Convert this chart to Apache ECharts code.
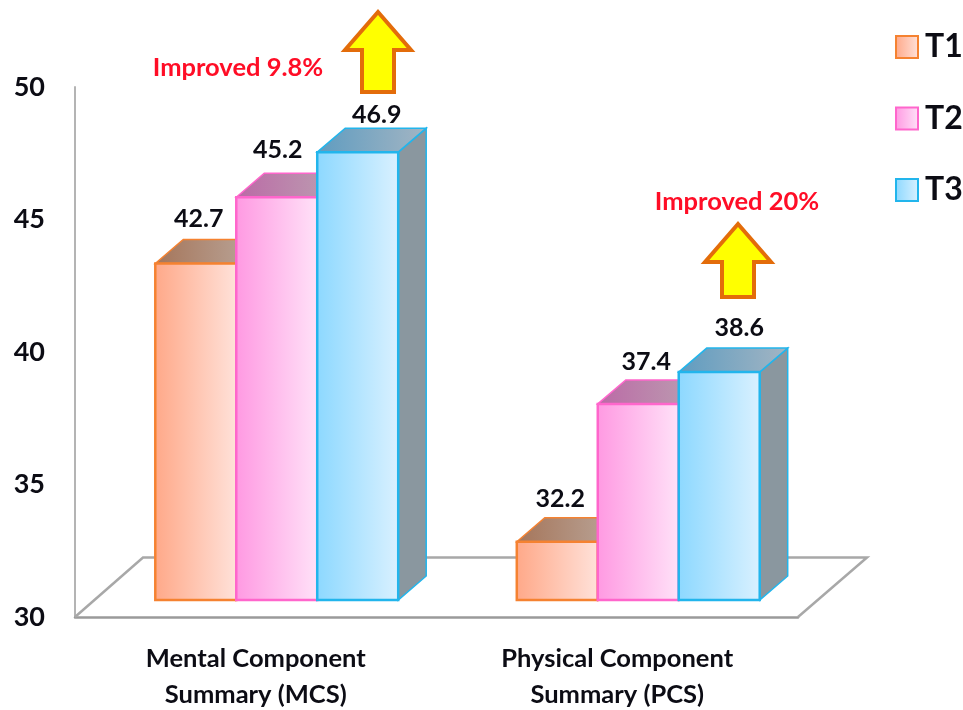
<!DOCTYPE html>
<html>
<head>
<meta charset="utf-8">
<style>html,body{margin:0;padding:0;background:#fff}#c{width:963px;height:710px}</style>
<script src="https://cdn.jsdelivr.net/npm/echarts@6/dist/echarts.min.js"></script>
</head>
<body>
<div id="c"></div>
<script>
const categories = ['Mental Component\nSummary (MCS)', 'Physical Component\nSummary (PCS)'];
const yTicks = { min: 30, max: 50, interval: 5 };
const t1 = [42.7, 32.2];
const t2 = [45.2, 37.4];
const t3 = [46.9, 38.6];

const FONT = 'Lato,sans-serif';
const INK = '#0c0c14';
const grad = (a, b) => new echarts.graphic.LinearGradient(0, 0, 1, 0, [{offset: 0, color: a}, {offset: 1, color: b}]);

const looks = [
  {name: 'T1', data: t1, idx: -1, front: ['#ffa888', '#ffe2da'], top: ['#a5755a', '#bcaa9f'], border: '#f58231', labelDx: [3, 3], labelUp: [45, 43]},
  {name: 'T2', data: t2, idx: 0, front: ['#ff99e2', '#ffe2f8'], top: ['#bb6aa6', '#bca3b2'], border: '#ff66cc', labelDx: [1, 8], labelUp: [47, 42]},
  {name: 'T3', data: t3, idx: 1, front: ['#8cd8ff', '#daf1ff'], top: ['#5f9cc0', '#a3b5c3'], border: '#22b5ec', labelDx: [19, 20], labelUp: [37, 44]}
];

// Projection of the 3D look: front plane sits in front of the axis plane.
const SHIFT = [21, -17], DEPTH = [28, -24], BAR_SHARE = 0.224;

function renderBar(look) {
  return function (params, api) {
    const cat = api.value(0), val = api.value(1);
    const top = api.coord([cat, val]);
    const base = api.coord([cat, yTicks.min]);
    const w = api.size([1, 0])[0] * BAR_SHARE;
    const x0 = top[0] + SHIFT[0] + look.idx * w - w / 2;
    const x1 = x0 + w;
    const yt = top[1] + SHIFT[1];
    const yb = base[1] + SHIFT[1];
    const [dx, dy] = DEPTH;
    const line = look.border;
    return {
      type: 'group',
      children: [
        {type: 'polygon', shape: {points: [[x1, yt], [x1 + dx, yt + dy], [x1 + dx, yb + dy], [x1, yb]]},
          style: {fill: '#8a979f', stroke: line, lineWidth: 1.5}},
        {type: 'polygon', shape: {points: [[x0, yt], [x0 + dx, yt + dy], [x1 + dx, yt + dy], [x1, yt]]},
          style: {fill: grad(look.top[0], look.top[1]), stroke: line, lineWidth: 1.5}},
        {type: 'rect', shape: {x: x0, y: yt, width: w, height: yb - yt},
          style: {fill: grad(look.front[0], look.front[1]), stroke: line, lineWidth: 2.5}},
        {type: 'text', style: {
          text: val.toFixed(1), x: (x0 + x1) / 2 + look.labelDx[cat], y: yt - look.labelUp[cat],
          align: 'center', verticalAlign: 'middle', fill: INK,
          font: 'bold 25px ' + FONT}, z2: 50}
      ]
    };
  };
}

function arrow(tipX, tipY, baseY) {
  return {type: 'polygon', z: 20, shape: {points: [
    [tipX, tipY], [tipX + 33, tipY + 38], [tipX + 16, tipY + 38], [tipX + 16, baseY],
    [tipX - 16, baseY], [tipX - 16, tipY + 38], [tipX - 33, tipY + 38]]},
    style: {fill: '#ffff00', stroke: '#e36c0a', lineWidth: 4, lineJoin: 'miter'}};
}
function note(text, x, y) {
  return {type: 'text', z: 20, style: {text, x, y, align: 'center', verticalAlign: 'middle',
    fill: '#ff0d26', font: 'bold 25.5px ' + FONT}};
}

const chart = echarts.init(document.getElementById('c'), null, {renderer: 'canvas'});
chart.setOption({
  animation: false,
  backgroundColor: '#ffffff',
  grid: {left: 75, right: 165, top: 87, bottom: 93, outerBoundsMode: 'none'},
  legend: {
    orient: 'vertical', left: 890, top: 26, itemWidth: 22, itemHeight: 22, itemGap: 39.5,
    selectedMode: false,
    textStyle: {color: INK, fontFamily: FONT, fontWeight: 'bold', fontSize: 32, padding: [0, 0, 0, 2]},
    data: looks.map(l => ({name: l.name, icon: 'rect',
      itemStyle: {color: grad(l.front[0], l.front[1]), borderColor: l.border, borderWidth: 2}}))
  },
  xAxis: {
    type: 'category', data: categories,
    axisLine: {lineStyle: {color: '#9a9a9a', width: 2.5}},
    axisTick: {show: false},
    axisLabel: {color: INK, fontFamily: FONT, fontWeight: 'bold', fontSize: 25.5, lineHeight: 36, margin: 24, interval: 0}
  },
  yAxis: {
    type: 'value', min: yTicks.min, max: yTicks.max, interval: yTicks.interval,
    splitLine: {show: false},
    axisLine: {show: true, lineStyle: {color: '#b4b4b4', width: 2}},
    axisTick: {show: false},
    axisLabel: {color: INK, fontFamily: FONT, fontWeight: 'bold', fontSize: 27, margin: 30}
  },
  series: looks.map(l => ({
    name: l.name, type: 'custom', clip: false, z: 5,
    itemStyle: {color: l.front[0], borderColor: l.border},
    renderItem: renderBar(l),
    encode: {x: 0, y: 1},
    data: l.data.map((v, i) => [i, v])
  })),
  graphic: [
    {type: 'polyline', z: 1, shape: {points: [[75, 617], [143, 557.5], [867, 557.5], [798, 617]]},
      style: {fill: 'none', stroke: '#a8a8a8', lineWidth: 2.5}},
    arrow(378, 12, 92),
    arrow(738, 224, 297),
    note('Improved 9.8%', 238, 68),
    note('Improved 20%', 737, 202)
  ]
});
</script>
</body>
</html>
